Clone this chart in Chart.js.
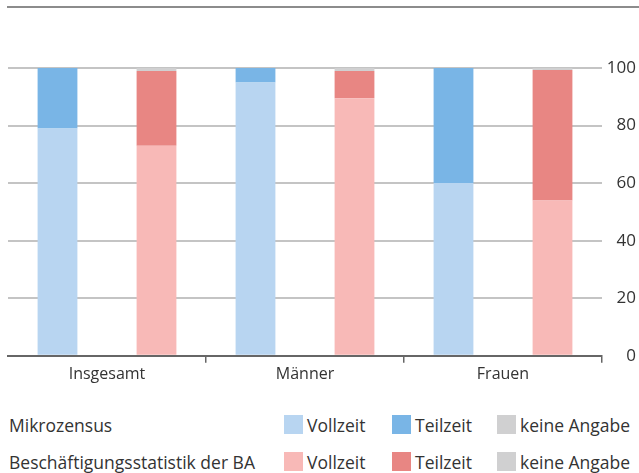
<!DOCTYPE html>
<html>
<head>
<meta charset="utf-8">
<script src="https://cdn.jsdelivr.net/npm/chart.js@4"></script>
<style>
  body { margin: 0; width: 639px; height: 473px; position: relative; font-family: "Open Sans", sans-serif; color: #333; background: #fff; }
  #topline { position: absolute; left: 7px; right: 0; top: 6px; height: 2px; background: #8c8c8c; }
  #wrap { position: absolute; left: 0; top: 0; width: 639px; height: 386px; }
  .row { position: absolute; left: 9px; font-size: 17.5px; line-height: 20px; height: 20px; width: 630px; }
  .row .name { position: absolute; left: 0; top: 0; }
  .row .item { position: absolute; top: 0; white-space: nowrap; }
  .row .sw { display: inline-block; width: 19px; height: 19px; vertical-align: top; margin-right: 4px; }
</style>
</head>
<body>
<div id="topline"></div>
<div id="wrap"><canvas id="id-chart"></canvas></div>
<div id="legend"></div>
<script>
// ----------------------------- data -----------------------------
var categories = ["Insgesamt", "Männer", "Frauen"];
var seriesLabels = ["Vollzeit", "Teilzeit", "keine Angabe"];
var groupLabels = ["Mikrozensus", "Beschäftigungsstatistik der BA"];

var mzVollzeit = [79, 95, 60];
var mzTeilzeit = [21, 5, 40];
var mzKeine = [0, 0, 0];

var baVollzeit = [73, 89.5, 54];
var baTeilzeit = [26, 9.5, 45.3];
var baKeine = [1, 1, 0.7];

var yTicks = [0, 20, 40, 60, 80, 100];

var mzColors = ["#b8d5f1", "#79b5e6", "#d0d0d1"];
var baColors = ["#f8b9b7", "#e88683", "#d0d0d1"];

var textColor = "#333333";

function ds(label, data, color, stack) {
  return { label: label, data: data, backgroundColor: color, stack: stack,
           barPercentage: 0.402, categoryPercentage: 1.0 };
}

new Chart("id-chart", {
  type: "bar",
  data: {
    labels: categories,
    datasets: [
      ds(seriesLabels[0], mzVollzeit, mzColors[0], "mz"),
      ds(seriesLabels[1], mzTeilzeit, mzColors[1], "mz"),
      ds(seriesLabels[2], mzKeine, mzColors[2], "mz"),
      ds(seriesLabels[0], baVollzeit, baColors[0], "ba"),
      ds(seriesLabels[1], baTeilzeit, baColors[1], "ba"),
      ds(seriesLabels[2], baKeine, baColors[2], "ba")
    ]
  },
  options: {
    responsive: true,
    maintainAspectRatio: false,
    animation: false,
    layout: { padding: { top: 68, left: 8, right: 3, bottom: 0 } },
    plugins: { legend: { display: false }, tooltip: { enabled: false } },
    scales: {
      x: {
        stacked: true,
        grid: {
          drawOnChartArea: false,
          tickLength: 7,
          lineWidth: 1.5,
          color: function(ctx) { return (ctx.index === 0 || ctx.index === categories.length) ? "rgba(0,0,0,0)" : "#666"; }
        },
        border: { color: "#666", width: 2 },
        ticks: { color: textColor, font: { family: "Open Sans", size: 16 }, padding: 2 }
      },
      y: {
        stacked: true,
        position: "right",
        min: 0,
        max: 100,
        afterBuildTicks: function(axis) { axis.ticks = yTicks.map(function(v) { return { value: v }; }); },
        afterFit: function(axis) { axis.width = 34; },
        grid: { color: "#c4c4c4", lineWidth: 2, drawTicks: false },
        border: { display: false },
        ticks: { color: textColor, font: { family: "Open Sans", size: 17 }, crossAlign: "far", padding: 0 }
      }
    }
  }
});

// ----------------------------- legend -----------------------------
var legendX = [275, 383, 488];
var legendY = [415, 452];
var groups = [mzColors, baColors];
var html = "";
groups.forEach(function(colors, g) {
  html += '<div class="row" style="top:' + legendY[g] + 'px"><span class="name">' + groupLabels[g] + '</span>';
  seriesLabels.forEach(function(s, i) {
    html += '<span class="item" style="left:' + legendX[i] + 'px"><span class="sw" style="background:' + colors[i] + '"></span>' + s + '</span>';
  });
  html += '</div>';
});
document.getElementById("legend").innerHTML = html;
</script>
</body>
</html>
